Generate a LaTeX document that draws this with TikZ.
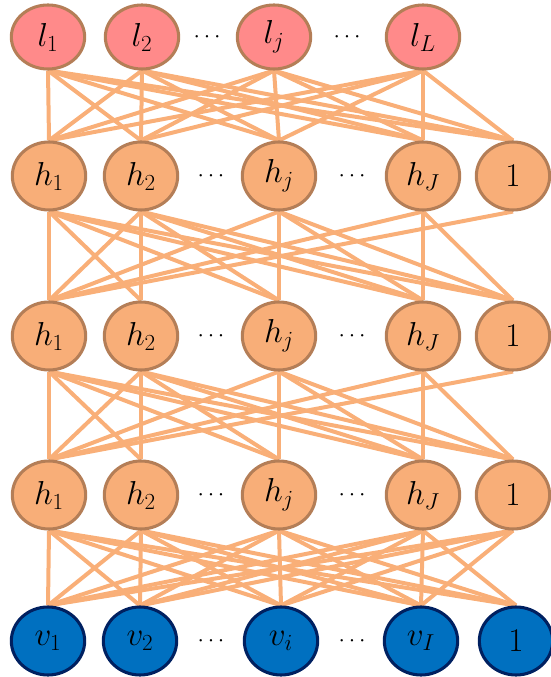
\documentclass[tikz,border=0pt]{standalone}
\usetikzlibrary{shapes.geometric}
\pgfdeclarelayer{bg}
\pgfsetlayers{bg,main}
\definecolor{lfill}{HTML}{FF8A8A}
\definecolor{hfill}{HTML}{F8AE78}
\definecolor{nborder}{HTML}{B47E57}
\definecolor{vfill}{HTML}{0070C0}
\definecolor{vborder}{HTML}{002060}
\definecolor{edgecol}{HTML}{F9AF78}
\tikzset{
  neuron/.style={ellipse, minimum width=55pt, minimum height=51pt, inner sep=0pt, line width=2.3pt, font=\fontsize{24}{28}\selectfont},
  lnode/.style={neuron, fill=lfill, draw=nborder, minimum height=48pt},
  hnode/.style={neuron, fill=hfill, draw=nborder},
  vnode/.style={neuron, fill=vfill, draw=vborder},
  dotsnode/.style={font=\fontsize{17}{20}\selectfont},
  conn/.style={draw=edgecol, line width=3pt},
}
\begin{document}
\begin{tikzpicture}[x=0.75pt,y=-0.75pt]
\useasboundingbox (0,0) rectangle (550,677);
% top row
\node[lnode] (l1) at (48,37) {$l_1$};
\node[lnode] (l2) at (142,37) {$l_2$};
\node[lnode] (lj) at (274,37) {$l_j$};
\node[lnode] (lL) at (423,37) {$l_L$};
\node[dotsnode] (d01) at (207,37) {$\cdots$};
\node[dotsnode] (d02) at (347,37) {$\cdots$};
% hidden rows
\foreach \r/\y in {A/176,B/336,C/495}{
  \node[hnode] (\r1) at (49,\y) {$h_1$};
  \node[hnode] (\r2) at (141,\y) {$h_2$};
  \node[hnode] (\r j) at (279,\y) {$h_j$};
  \node[hnode] (\r J) at (423,\y) {$h_J$};
  \node[hnode] (\r b) at (513,\y) {$1$};
  \node[dotsnode] (\r d1) at (211,\y) {$\cdots$};
  \node[dotsnode] (\r d2) at (352,\y) {$\cdots$};
}
% visible row
\node[vnode] (v1) at (48,641) {$v_1$};
\node[vnode] (v2) at (140,641) {$v_2$};
\node[vnode] (vi) at (281,641) {$v_i$};
\node[vnode] (vI) at (421,641) {$v_I$};
\node[vnode] (vb) at (516,641) {$1$};
\node[dotsnode] (vd1) at (211,641) {$\cdots$};
\node[dotsnode] (vd2) at (352,641) {$\cdots$};
\begin{pgfonlayer}{bg}
% l -> first hidden: full
\foreach \a in {l1,l2,lj,lL}
  \foreach \b in {A1,A2,Aj,AJ,Ab}
    \draw[conn] (\a.south) -- (\b.north);
% hidden -> hidden
\foreach \u/\w in {A/B,B/C}{
  \foreach \a/\bs in {1/{1,2,j,J,b},2/{1,2,j,J,b},j/{1,j,J,b},J/{1,J,b},b/{1}}
    \foreach \b in \bs
      \draw[conn] (\u\a.south) -- (\w\b.north);
}
% last hidden -> visible
\foreach \a/\bs in {C1/{v1,v2,vi,vI,vb},C2/{v1,v2,vi,vI,vb},Cj/{v1,v2,vi,vI,vb},CJ/{v1,v2,vi,vI,vb},Cb/{v1,v2,vi,vI}}
  \foreach \b in \bs
    \draw[conn] (\a.south) -- (\b.north);
\end{pgfonlayer}
\end{tikzpicture}
\end{document}
